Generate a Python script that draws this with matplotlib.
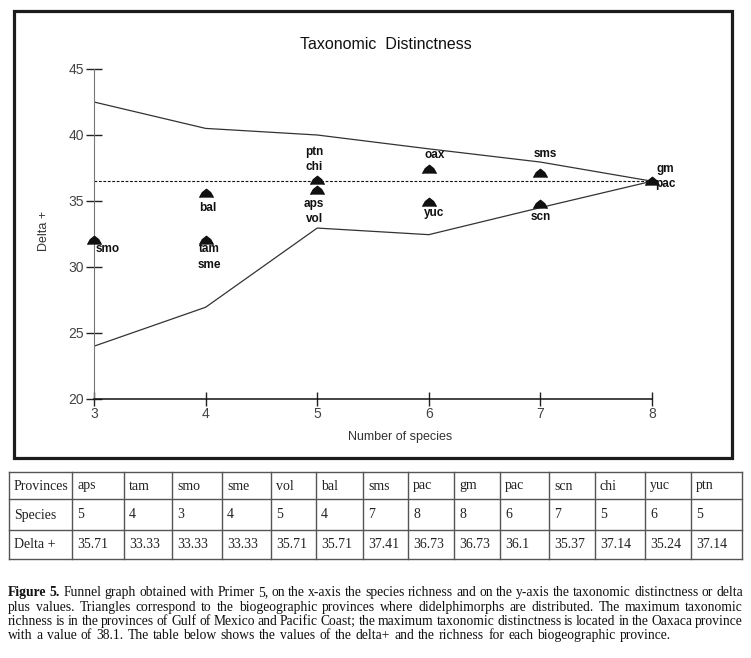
import matplotlib
matplotlib.use('Agg')
import matplotlib.pyplot as plt
from matplotlib.patches import Rectangle

plt.rcParams['font.family'] = ['Liberation Sans', 'DejaVu Sans']

# funnel (95% limits) and mean delta+
n_species = [3, 4, 5, 6, 7, 8]
upper_limit = [42.5, 40.5, 40.0, 38.95, 37.95, 36.5]
lower_limit = [24.0, 26.95, 32.95, 32.45, 34.5, 36.5]
mean_delta = 36.5

# triangles plotted on the graph
pt_names = ['smo', 'tam\nsme', 'bal', 'ptn\nchi', 'aps\nvol', 'oax', 'yuc', 'sms', 'scn', 'gm\npac']
pt_species = [3, 4, 4, 5, 5, 6, 6, 7, 7, 8]
pt_delta = [32.05, 32.05, 35.6, 36.6, 35.8, 37.4, 34.9, 37.15, 34.8, 36.5]

# table under the graph
provinces = ['aps', 'tam', 'smo', 'sme', 'vol', 'bal', 'sms', 'pac', 'gm', 'pac', 'scn', 'chi', 'yuc', 'ptn']
species = [5, 4, 3, 4, 5, 4, 7, 8, 8, 6, 7, 5, 6, 5]
delta_plus = [35.71, 33.33, 33.33, 33.33, 35.71, 35.71, 37.41, 36.73, 36.73, 36.1, 35.37, 37.14, 35.24, 37.14]

caption_lines = [
    "Figure 5. Funnel graph obtained with Primer 5, on the x-axis the species richness and on the y-axis the taxonomic distinctness or delta",
    "plus values. Triangles correspond to the biogeographic provinces where didelphimorphs are distributed. The maximum taxonomic",
    "richness is in the provinces of Gulf of Mexico and Pacific Coast; the maximum taxonomic distinctness is located in the Oaxaca province",
    "with a value of 38.1. The table below shows the values of the delta+ and the richness for each biogeographic province.",
]

# label offsets in pixels (dx, dy) from each triangle
label_off = [(14, -9), (4, -17), (2, -15), (-3, 20), (-3, -21), (6, 14), (5, -11), (5, 19), (0, -13), (13, 5)]

W, H = 751, 658
fig = plt.figure(figsize=(W / 100, H / 100), dpi=100)

# pixel-space layer for frame, table and caption
lay = fig.add_axes([0, 0, 1, 1])
lay.set_xlim(0, W)
lay.set_ylim(H, 0)
lay.axis('off')

lay.add_patch(Rectangle((14, 11), 717.5, 447, fill=False, lw=2.3, ec='#1c1c1c'))

# ---- chart ----
ax = fig.add_axes([94 / W, (H - 399) / H, 558 / W, 330 / H])
ax.patch.set_alpha(0)
ax.set_xlim(3, 8)
ax.set_ylim(20, 45)
for s in ['top', 'right']:
    ax.spines[s].set_visible(False)
ax.spines['left'].set_color('#777777')
ax.spines['bottom'].set_color('#111111')
ax.spines['bottom'].set_linewidth(1.1)
ax.set_xticks(n_species)
ax.set_yticks([20, 25, 30, 35, 40, 45])
ax.tick_params(axis='y', direction='inout', length=12, width=1, pad=1,
               labelsize=10, labelcolor='#444444', color='#222222')
ax.tick_params(axis='x', direction='inout', length=10, width=1, pad=1,
               labelsize=10, labelcolor='#444444', color='#222222')

ax.plot(n_species, upper_limit, color='#333333', lw=0.9)
ax.plot(n_species, lower_limit, color='#333333', lw=0.9)
ax.hlines(mean_delta, n_species[0], n_species[-1], color='#111111', lw=0.8,
          linestyles=(0, (2.5, 1.5)))

dome = [(-1, -0.6), (-0.6, 0.12), (0, 0.6), (0.6, 0.12), (1, -0.6)]
ax.plot(pt_species, pt_delta, ls='none', marker=dome, ms=10, color='#111111',
        clip_on=False, zorder=3)
for name, x, y, off in zip(pt_names, pt_species, pt_delta, label_off):
    ax.annotate(name, (x, y), xytext=off, textcoords='offset pixels',
                ha='center', va='center', fontsize=8.5, fontweight='bold',
                color='#111111', linespacing=1.35, annotation_clip=False)

ax.set_title('Taxonomic  Distinctness', fontsize=11.5, x=0.523, y=1.06, pad=0, color='#111111')
ax.set_xlabel('Number of species', fontsize=9, color='#333333')
ax.xaxis.set_label_coords((400 - 94) / 558, (399 - 437) / 330)
ax.xaxis.label.set_va('center')
ax.set_ylabel('Delta +', fontsize=9, color='#333333')
ax.yaxis.set_label_coords((44 - 94) / 558, (399 - 231) / 330)
ax.yaxis.label.set_va('center')

# ---- table ----
col_x = [9, 72, 124, 172, 222, 271, 316, 363, 408, 454, 500, 549, 595, 645, 691, 742]
row_y = [472, 499, 530, 559]
for xx in col_x:
    lay.plot([xx, xx], [row_y[0], row_y[-1]], color='#555555', lw=1)
for yy in row_y:
    lay.plot([col_x[0], col_x[-1]], [yy, yy], color='#555555', lw=1)

rows = [['Provinces'] + provinces,
        ['Species'] + [str(v) for v in species],
        ['Delta +'] + [str(v) for v in delta_plus]]
for i, row in enumerate(rows):
    base = (row_y[i] + row_y[i + 1]) / 2 + 4
    for j, txt in enumerate(row):
        lay.text(col_x[j] + 5, base, txt, ha='left', va='baseline', fontsize=10,
                 family='Liberation Serif', color='#222222')

# ---- caption, justified ----
cap_base = [596, 611, 625, 639]
cap_left, cap_right = 8, 743
renderer = fig.canvas.get_renderer()

# size the caption so the tightest line (3rd) fits the width
probe = lay.text(0, 0, caption_lines[2], fontsize=10, family='Liberation Serif')
cap_size = 10 * (cap_right - cap_left) / probe.get_window_extent(renderer).width * 1.01
probe.remove()

for i, line in enumerate(caption_lines):
    words = line.split(' ')
    objs = []
    for j, w in enumerate(words):
        bold = (i == 0 and j < 2)
        objs.append(lay.text(0, cap_base[i], w, ha='left', va='baseline', fontsize=cap_size,
                             family='Liberation Serif', color='#111111',
                             fontweight='bold' if bold else 'normal'))
    widths = [o.get_window_extent(renderer).width for o in objs]
    if i < len(caption_lines) - 1:
        gap = (cap_right - cap_left - sum(widths)) / (len(words) - 1)
    else:
        gap = cap_size * 0.3 / 0.72
    x = cap_left
    for o, wd in zip(objs, widths):
        o.set_x(x)
        x += wd + gap

fig.savefig('out.png', dpi=100)
